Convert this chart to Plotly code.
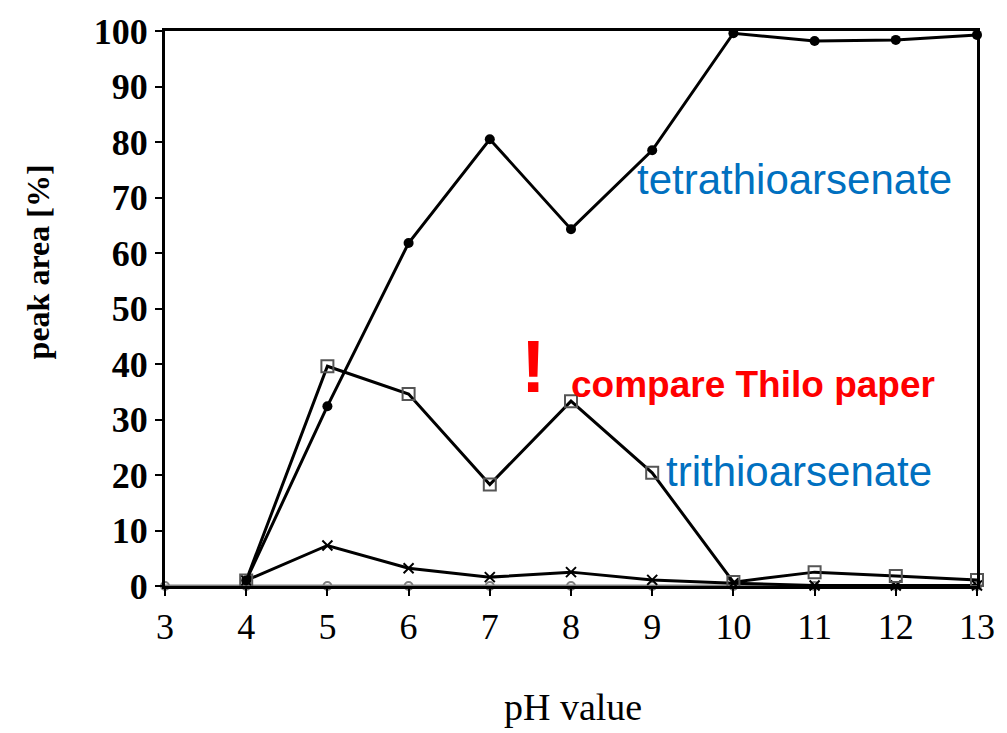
import plotly.graph_objects as go

# pH series and relative peak areas (%)
ph = [3, 4, 5, 6, 7, 8, 9, 10, 11, 12, 13]
ph_from4 = [4, 5, 6, 7, 8, 9, 10, 11, 12, 13]
tetrathio = [1, 32.4, 61.8, 80.5, 64.3, 78.5, 99.6, 98.2, 98.4, 99.3]
trithio = [1, 39.6, 34.6, 18.3, 33.3, 20.4, 0.7, 2.5, 1.8, 1.1]
dithio = [1, 7.3, 3.2, 1.6, 2.5, 1.1, 0.5, 0.1, 0.1, 0.1]
zero_series = [0, 0, 0, 0, 0, 0, 0, 0, 0, 0, 0]

x_ticks = [3, 4, 5, 6, 7, 8, 9, 10, 11, 12, 13]
y_ticks = [0, 10, 20, 30, 40, 50, 60, 70, 80, 90, 100]

fig = go.Figure()

fig.add_trace(go.Scatter(
    x=ph, y=zero_series, mode="lines+markers",
    line=dict(color="#808080", width=3),
    marker=dict(symbol="circle-open", size=8, color="#808080", line=dict(width=2)),
    showlegend=False, cliponaxis=False))

fig.add_trace(go.Scatter(
    x=ph_from4, y=dithio, mode="lines+markers",
    line=dict(color="black", width=3),
    marker=dict(symbol="x-thin-open", size=10, color="black", line=dict(width=2)),
    showlegend=False, cliponaxis=False))

fig.add_trace(go.Scatter(
    x=ph_from4, y=trithio, mode="lines+markers",
    line=dict(color="black", width=3),
    marker=dict(symbol="square-open", size=12, color="#555555", line=dict(width=2)),
    showlegend=False, cliponaxis=False))

fig.add_trace(go.Scatter(
    x=ph_from4, y=tetrathio, mode="lines+markers",
    line=dict(color="black", width=3),
    marker=dict(symbol="circle", size=10, color="black"),
    showlegend=False, cliponaxis=False))

serif = "Liberation Serif, Times New Roman, serif"
sans = "Liberation Sans, Arial, sans-serif"

labels = [
    dict(x=8.79, y=73.2, text="tetrathioarsenate", xanchor="left", yanchor="middle",
         font=dict(family=sans, size=42, color="#0070C0")),
    dict(x=9.15, y=20.6, text="trithioarsenate", xanchor="left", yanchor="middle",
         font=dict(family=sans, size=42, color="#0070C0")),
    dict(x=7.54, y=39.5, text="<b>!</b>", xanchor="center", yanchor="middle",
         font=dict(family=sans, size=74, color="#FF0000")),
    dict(x=7.97, y=36.3, text="<b>compare Thilo paper</b>", xanchor="left", yanchor="middle",
         font=dict(family=sans, size=37, color="#FF0000")),
]
for a in labels:
    fig.add_annotation(xref="x", yref="y", showarrow=False, **a)

# axis titles placed as annotations
fig.add_annotation(xref="paper", yref="paper", x=-0.157, y=0.584, text="<b>peak area [%]</b>",
                   textangle=-90, showarrow=False, xanchor="center", yanchor="middle",
                   font=dict(family=serif, size=32, color="black"))
fig.add_annotation(xref="paper", yref="paper", x=0.502, y=-0.218, text="pH value",
                   showarrow=False, xanchor="center", yanchor="middle",
                   font=dict(family=serif, size=38, color="black"))

fig.update_layout(
    width=1007, height=733,
    margin=dict(l=165, r=20, t=28, b=147),
    paper_bgcolor="white", plot_bgcolor="white",
    xaxis=dict(
        range=[3, 13], tickvals=x_ticks, ticktext=[str(v) for v in x_ticks],
        showgrid=False, zeroline=False, showline=True, linecolor="black", linewidth=3,
        mirror=True, ticks="outside", ticklen=7, tickwidth=2, tickcolor="black",
        tickfont=dict(family=serif, size=36, color="black"),
    ),
    yaxis=dict(
        range=[0, 100], tickvals=y_ticks, ticktext=["<b>%d</b>" % v for v in y_ticks],
        showgrid=False, zeroline=False, showline=True, linecolor="black", linewidth=3,
        mirror=True, ticks="outside", ticklen=7, tickwidth=2, tickcolor="black",
        tickfont=dict(family=serif, size=36, color="black"),
    ),
)

fig.write_html("out.html")
